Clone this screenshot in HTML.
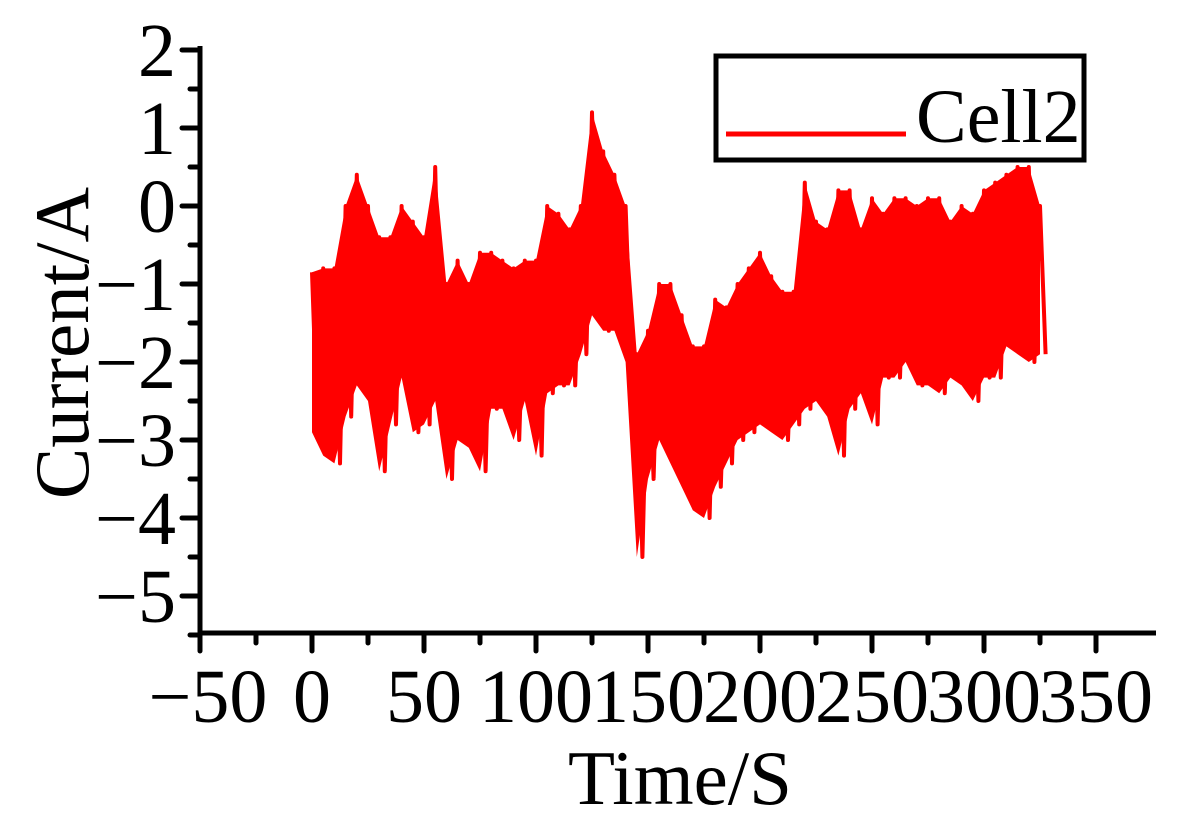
<!DOCTYPE html>
<html><head><meta charset="utf-8"><style>
body{margin:0;background:#fff}
svg{display:block}
text{font-family:"Liberation Serif",serif;fill:#000}
</style></head><body>
<svg id="chart" width="1183" height="837" viewBox="0 0 1183 837" xmlns="http://www.w3.org/2000/svg">
<g id="plot"></g>
<g id="axes"></g>
<text transform="translate(88,343) rotate(-90)" text-anchor="middle" font-size="77">Current/A</text>
<text x="680" y="804" text-anchor="middle" font-size="77">Time/S</text>
<g>
<rect x="716" y="56" width="368" height="104" fill="#fff" stroke="#000" stroke-width="5"/>
<line x1="726" y1="134" x2="906" y2="134" stroke="#f00" stroke-width="5"/>
<text x="916" y="142" font-size="76">Cell2</text>
</g>
</svg>
<script>
const times=[0,5,10,15,20,25,30,35,40,45,50,55,60,65,70,75,80,85,90,95,100,105,110,115,120,125,130,135,140,145,150,155,160,165,170,175,180,185,190,195,200,205,210,215,220,225,230,235,240,245,250,255,260,265,270,275,280,285,290,295,300,305,310,315,320,325];
const upper=[-0.85,-0.8,-0.8,0.0,0.4,0.0,-0.4,-0.4,0.0,-0.2,-0.4,0.5,-1.0,-0.7,-1.0,-0.6,-0.6,-0.7,-0.8,-0.7,-0.7,0.0,-0.1,-0.3,0.0,1.2,0.7,0.4,0.0,-1.9,-1.6,-1.0,-1.0,-1.4,-1.8,-1.8,-1.2,-1.3,-1.0,-0.8,-0.6,-0.9,-1.1,-1.1,0.3,-0.2,-0.3,0.2,0.2,-0.3,0.1,-0.1,0.1,0.1,0.0,0.1,0.1,-0.2,0.0,-0.1,0.2,0.3,0.4,0.5,0.5,0.0];
const lower=[-2.9,-3.2,-3.3,-2.7,-2.3,-2.5,-3.4,-2.8,-2.2,-2.9,-2.8,-2.5,-3.5,-3.0,-3.1,-3.4,-2.6,-2.6,-3.0,-2.5,-3.2,-2.4,-2.3,-2.3,-1.9,-1.4,-1.6,-1.6,-2.0,-4.5,-3.5,-3.0,-3.3,-3.6,-3.9,-4.0,-3.6,-3.3,-3.0,-2.9,-2.8,-2.9,-3.0,-2.8,-2.6,-2.5,-2.7,-3.2,-2.6,-2.4,-2.8,-2.2,-2.2,-2.0,-2.3,-2.3,-2.4,-2.2,-2.3,-2.5,-2.2,-2.2,-1.8,-1.9,-2.0,-1.9];
const xTicks=[-50,0,50,100,150,200,250,300,350];
const yTicks=[2,1,0,-1,-2,-3,-4,-5];
const NS="http://www.w3.org/2000/svg";
const X=t=>312+(t)*2.24;
const Y=v=>50+(2-v)*78;
const plot=document.getElementById('plot'),axes=document.getElementById('axes');
function mk(tag,attrs,parent){const e=document.createElementNS(NS,tag);for(const k in attrs)e.setAttribute(k,attrs[k]);parent.appendChild(e);return e;}
let pts=times.map((t,i)=>X(t)+','+Y(upper[i]));
for(let i=times.length-1;i>=0;i--)pts.push(X(times[i])+','+Y(lower[i]));
const band=mk('polygon',{points:pts.join(' '),fill:'#f00'},plot);


let zz=[];
times.forEach((t,i)=>{zz.push(X(t)+','+Y(upper[i]));zz.push(X(t+2.5)+','+Y(lower[i]));});
const line=mk('polyline',{points:zz.join(' '),fill:'none',stroke:'#f00','stroke-width':4,'stroke-linejoin':'round'},plot);


mk('line',{x1:200,y1:46,x2:200,y2:634,stroke:'#000','stroke-width':5},axes);
mk('line',{x1:198,y1:633,x2:1156,y2:633,stroke:'#000','stroke-width':5},axes);
xTicks.forEach(t=>{
  mk('line',{x1:X(t),y1:633,x2:X(t),y2:651,stroke:'#000','stroke-width':5,'stroke-linecap':'round'},axes);
  if(t<350)mk('line',{x1:X(t+25),y1:633,x2:X(t+25),y2:643,stroke:'#000','stroke-width':5,'stroke-linecap':'round'},axes);
  const lb=mk('text',{x:X(t)+(t<0?8:0),y:722,'text-anchor':'middle','font-size':76},axes);
  lb.textContent=t<0?'\u2212'+(-t):String(t);
  
  
});
yTicks.forEach(v=>{
  mk('line',{x1:200,y1:Y(v),x2:182,y2:Y(v),stroke:'#000','stroke-width':5,'stroke-linecap':'round'},axes);
  if(v>-5)mk('line',{x1:200,y1:Y(v-0.5),x2:190,y2:Y(v-0.5),stroke:'#000','stroke-width':5,'stroke-linecap':'round'},axes);
  const lb=mk('text',{x:176,y:Y(v)+26,'text-anchor':'end','font-size':76},axes);
  lb.textContent=v<0?'\u2212'+(-v):String(v);
  
  
});
mk('line',{x1:200,y1:Y(-5.5),x2:190,y2:Y(-5.5),stroke:'#000','stroke-width':5,'stroke-linecap':'round'},axes);
</script>
</body></html>
